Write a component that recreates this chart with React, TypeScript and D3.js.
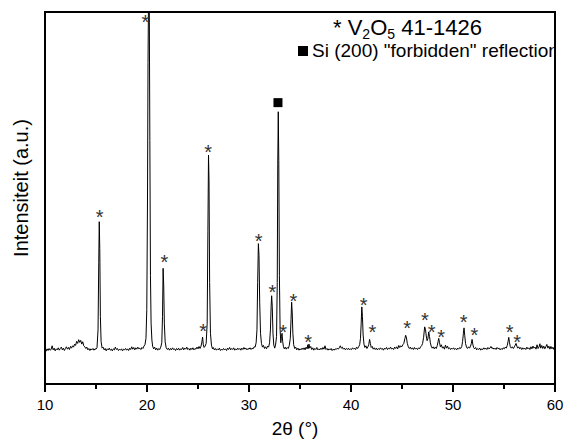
import React from 'react';
import * as d3 from 'd3';

const W = 564;
const H = 439;
const FONT = '"Liberation Sans", Arial, Helvetica, sans-serif';

// Axis definitions
const xDomain: [number, number] = [10, 60];
const yDomain: [number, number] = [-10, 100];
const xMajorTicks = [10, 20, 30, 40, 50, 60];
const xMinorTicks = [15, 25, 35, 45, 55];
const xTitle = '2θ (°)';
const yTitle = 'Intensiteit (a.u.)';

// XRD trace: [2θ, intensity (a.u.)]
const pattern: [number, number][] = [
  [10.0, 0.3], [10.1, -0.3], [10.2, 0.4], [10.3, -0.1], [10.4, 0.5], [10.5, 0.0], [10.6, 0.2], [10.7, 1.3], [10.8, 0.1],
  [10.9, 0.6], [11.0, -0.2], [11.1, 0.4], [11.2, 0.1], [11.3, 0.7], [11.4, 0.0], [11.5, 0.5], [11.6, 0.9], [11.7, 0.1],
  [11.8, 0.6], [11.9, -0.1], [12.0, 0.5], [12.1, 1.0], [12.2, 0.3], [12.3, 0.8], [12.4, 0.2], [12.5, 1.1], [12.6, 0.6],
  [12.7, 1.3], [12.8, 0.9], [12.9, 1.8], [13.0, 1.4], [13.1, 2.6], [13.2, 2.0], [13.3, 3.1], [13.4, 2.3], [13.5, 2.9],
  [13.6, 1.8], [13.7, 2.5], [13.8, 1.3], [13.9, 1.0], [14.0, 0.5], [14.1, 0.9], [14.2, 0.1], [14.3, 0.5], [14.4, -0.1],
  [14.5, 0.4], [14.6, 0.1], [14.7, 0.5], [14.8, 0.0], [14.9, 0.4], [15.0, 0.3], [15.1, 0.8], [15.2, 6], [15.27, 26],
  [15.32, 38], [15.37, 30], [15.43, 10], [15.5, 2.5], [15.6, 0.6], [15.7, 0.9], [15.8, 0.1], [15.9, 0.5], [16.0, -0.2],
  [16.1, 0.4], [16.2, 0.1], [16.3, 0.6], [16.4, 0.0], [16.5, 0.3], [16.6, -0.2], [16.7, 0.4], [16.8, 0.1], [16.9, 0.9],
  [17.0, 0.2], [17.1, 0.5], [17.2, -0.1], [17.3, 0.3], [17.4, 0.0], [17.5, 0.4], [17.6, -0.2], [17.7, 0.3], [17.8, 0.1],
  [17.9, 0.5], [18.0, 0.0], [18.1, 0.4], [18.2, -0.1], [18.3, 0.6], [18.4, 0.2], [18.5, 1.0], [18.6, 0.3], [18.7, 0.8],
  [18.8, 0.1], [18.9, 0.7], [19.0, 0.3], [19.1, 0.9], [19.2, 0.4], [19.3, 0.6], [19.4, 0.2], [19.5, 0.8], [19.6, 0.5],
  [19.7, 1.2], [19.8, 1.6], [19.9, 3.5], [19.98, 12], [20.05, 45], [20.1, 85], [20.15, 104], [20.22, 104], [20.28, 62],
  [20.34, 22], [20.4, 8], [20.48, 3], [20.55, 1.2], [20.65, 0.4], [20.75, 0.9], [20.85, 0.1], [20.95, 0.6], [21.05, 0.0],
  [21.15, 0.5], [21.25, 0.2], [21.35, 0.9], [21.45, 2.2], [21.52, 10], [21.58, 24.2], [21.64, 19], [21.7, 8], [21.78, 2.5],
  [21.88, 0.7], [22.0, 0.2], [22.1, 0.6], [22.2, 0.0], [22.3, 0.5], [22.4, 0.1], [22.5, 0.7], [22.6, 0.2], [22.7, 0.4],
  [22.8, -0.1], [22.9, 0.5], [23.0, 0.1], [23.1, 0.6], [23.2, 0.0], [23.3, 0.4], [23.4, 0.2], [23.5, 0.8], [23.6, 0.1],
  [23.7, 0.6], [23.8, 0.3], [23.9, 0.9], [24.0, 0.2], [24.1, 0.5], [24.2, 0.0], [24.3, 0.6], [24.4, 0.2], [24.5, 0.7],
  [24.6, 0.1], [24.7, 0.5], [24.8, 0.3], [24.9, 0.9], [25.0, 0.4], [25.1, 1.1], [25.2, 0.5], [25.3, 1.2], [25.38, 2.4],
  [25.45, 3.9], [25.52, 1.6], [25.6, 0.8], [25.7, 1.2], [25.8, 2.0], [25.9, 8], [25.97, 35], [26.03, 57.7], [26.08, 50],
  [26.14, 20], [26.22, 5], [26.32, 1.5], [26.42, 0.4], [26.5, 0.8], [26.6, 0.1], [26.7, 0.5], [26.8, 0.0], [26.9, 0.4],
  [27.0, 0.1], [27.1, 0.6], [27.2, -0.1], [27.3, 0.3], [27.4, 0.0], [27.5, 0.5], [27.6, 0.1], [27.7, 0.4], [27.8, -0.1],
  [27.9, 0.6], [28.0, 0.2], [28.1, 0.8], [28.2, 0.1], [28.3, 0.5], [28.4, 0.2], [28.5, 0.7], [28.6, 0.0], [28.7, 0.4],
  [28.8, 0.1], [28.9, 0.6], [29.0, 0.2], [29.1, 0.5], [29.2, 0.0], [29.3, 0.6], [29.4, 0.2], [29.5, 0.8], [29.6, 0.3],
  [29.7, 0.6], [29.8, 0.1], [29.9, 0.5], [30.0, 0.3], [30.1, 0.7], [30.2, 0.2], [30.3, 0.6], [30.4, 0.4], [30.5, 1.0],
  [30.6, 0.9], [30.7, 2.2], [30.78, 6], [30.85, 20], [30.92, 31.5], [30.98, 28], [31.05, 14], [31.13, 5], [31.22, 2],
  [31.32, 0.9], [31.42, 1.4], [31.52, 0.5], [31.62, 1.0], [31.72, 0.4], [31.82, 1.2], [31.92, 0.9], [32.02, 2.2],
  [32.1, 6], [32.17, 13], [32.22, 16.1], [32.28, 13], [32.35, 5], [32.43, 1.5], [32.52, 0.6], [32.6, 1.5], [32.7, 4],
  [32.77, 20], [32.82, 55], [32.87, 70.5], [32.92, 56], [32.98, 22], [33.05, 6], [33.12, 2.2], [33.18, 4.0], [33.24, 5.0],
  [33.3, 2.6], [33.38, 1.0], [33.46, 0.4], [33.55, 0.9], [33.65, 0.3], [33.75, 0.8], [33.85, 0.5], [33.95, 1.4],
  [34.05, 3.5], [34.12, 9], [34.18, 14.2], [34.24, 11], [34.3, 5], [34.38, 1.6], [34.48, 0.5], [34.58, 0.9], [34.68, 0.1],
  [34.8, 0.6], [34.9, 0.0], [35.0, 0.4], [35.1, 0.1], [35.2, 0.6], [35.3, 0.2], [35.4, 0.7], [35.5, 0.1], [35.6, 0.9],
  [35.7, 0.4], [35.76, 1.6], [35.82, 0.5], [35.88, 1.8], [35.95, 0.6], [36.05, 1.1], [36.15, 0.2], [36.25, 0.7],
  [36.35, 0.0], [36.45, 0.5], [36.55, 0.2], [36.65, 0.8], [36.75, 0.1], [36.85, 0.4], [36.95, 0.1], [37.05, 0.6],
  [37.15, 0.2], [37.25, 0.8], [37.35, 0.3], [37.45, 1.3], [37.55, 0.2], [37.65, 0.5], [37.75, 0.0], [37.85, 0.4],
  [37.95, 0.1], [38.05, 0.5], [38.15, -0.1], [38.25, 0.3], [38.35, 0.0], [38.45, 0.4], [38.55, 0.2], [38.65, 0.6],
  [38.75, 0.3], [38.85, 0.7], [38.95, 1.3], [39.05, 0.6], [39.15, 0.9], [39.25, 0.3], [39.35, 0.6], [39.45, 0.1],
  [39.55, 0.5], [39.65, 0.2], [39.75, 0.6], [39.85, 0.1], [39.95, 0.4], [40.05, 0.2], [40.15, 0.7], [40.25, 0.3],
  [40.35, 0.6], [40.45, 0.2], [40.55, 0.9], [40.65, 0.5], [40.75, 1.0], [40.85, 1.6], [40.93, 3.5], [41.0, 8],
  [41.06, 12.8], [41.12, 10], [41.19, 4.5], [41.27, 1.8], [41.36, 0.8], [41.46, 1.3], [41.56, 0.5], [41.66, 1.0],
  [41.74, 1.6], [41.82, 3.2], [41.9, 2.0], [41.98, 0.8], [42.08, 1.1], [42.18, 0.3], [42.28, 0.7], [42.38, 0.2],
  [42.48, 0.6], [42.58, 0.1], [42.68, 0.5], [42.78, 0.2], [42.88, 0.7], [42.98, 0.3], [43.08, 0.5], [43.18, 0.0],
  [43.28, 0.6], [43.38, 0.3], [43.48, 0.8], [43.58, 0.2], [43.68, 0.6], [43.78, 0.4], [43.88, 0.9], [43.98, 0.3],
  [44.08, 0.6], [44.18, 0.2], [44.28, 0.9], [44.38, 0.5], [44.48, 1.0], [44.58, 0.4], [44.68, 1.4], [44.78, 0.8],
  [44.88, 1.3], [44.98, 1.0], [45.08, 1.6], [45.18, 2.0], [45.28, 3.4], [45.36, 4.4], [45.44, 3.6], [45.52, 2.0],
  [45.62, 1.0], [45.72, 0.5], [45.82, 0.9], [45.92, 0.3], [46.02, 0.7], [46.12, 0.2], [46.22, 0.8], [46.32, 0.3],
  [46.42, 0.6], [46.52, 0.2], [46.62, 0.7], [46.72, 0.4], [46.82, 1.0], [46.92, 1.3], [47.02, 2.0], [47.12, 3.8],
  [47.22, 6.9], [47.3, 6.2], [47.38, 4.2], [47.46, 2.8], [47.54, 3.4], [47.62, 5.4], [47.7, 4.0], [47.78, 2.2],
  [47.86, 1.2], [47.96, 0.6], [48.06, 1.0], [48.16, 0.4], [48.26, 0.9], [48.36, 0.5], [48.46, 1.4], [48.54, 2.6],
  [48.6, 3.5], [48.68, 2.2], [48.76, 1.0], [48.86, 1.6], [48.96, 0.6], [49.06, 1.0], [49.16, 0.3], [49.26, 1.5],
  [49.36, 0.6], [49.46, 1.2], [49.56, 0.4], [49.66, 0.7], [49.76, 0.2], [49.86, 0.6], [49.96, 0.3], [50.06, 0.7],
  [50.16, 0.2], [50.26, 0.5], [50.36, 0.1], [50.46, 0.6], [50.56, 0.3], [50.66, 0.8], [50.76, 0.5], [50.86, 1.1],
  [50.94, 2.6], [51.02, 5.0], [51.08, 6.6], [51.15, 4.4], [51.23, 2.0], [51.32, 0.9], [51.42, 0.5], [51.52, 1.0],
  [51.62, 0.6], [51.72, 1.2], [51.8, 2.0], [51.87, 3.2], [51.94, 1.8], [52.02, 0.8], [52.12, 0.4], [52.22, 0.8],
  [52.32, 0.1], [52.42, 0.5], [52.52, 0.2], [52.62, 0.6], [52.72, 0.0], [52.82, 0.4], [52.92, 0.2], [53.02, 0.7],
  [53.12, 0.3], [53.22, 0.6], [53.32, 0.2], [53.42, 0.8], [53.52, 0.4], [53.62, 0.6], [53.72, 1.1], [53.82, 0.5],
  [53.92, 0.7], [54.02, 0.3], [54.12, 0.6], [54.22, 0.2], [54.32, 0.8], [54.42, 0.4], [54.52, 0.6], [54.62, 0.1],
  [54.72, 0.5], [54.82, 0.2], [54.92, 0.7], [55.02, 0.4], [55.12, 0.9], [55.22, 0.6], [55.32, 1.4], [55.4, 2.6],
  [55.47, 3.8], [55.54, 2.2], [55.62, 1.0], [55.72, 0.6], [55.82, 1.0], [55.92, 0.5], [56.02, 1.0], [56.1, 1.5],
  [56.18, 2.0], [56.26, 1.2], [56.34, 0.6], [56.44, 1.0], [56.54, 0.4], [56.64, 0.8], [56.74, 0.2], [56.84, 0.7],
  [56.94, 0.3], [57.04, 0.6], [57.14, 0.2], [57.24, 0.9], [57.34, 0.4], [57.44, 0.7], [57.54, 0.2], [57.64, 1.0],
  [57.74, 0.4], [57.84, 1.2], [57.94, 0.6], [58.04, 0.9], [58.14, 0.3], [58.24, 1.6], [58.34, 0.5], [58.44, 1.0],
  [58.52, 1.9], [58.6, 0.6], [58.7, 1.4], [58.8, 0.5], [58.9, 1.2], [59.0, 0.4], [59.1, 1.0], [59.2, 1.7], [59.3, 0.6],
  [59.4, 1.2], [59.5, 0.3], [59.6, 1.1], [59.7, 0.4], [59.8, 0.9], [59.9, 0.2], [60.0, 0.7],
];

// V2O5 reflection markers (asterisks) [2θ, intensity]
const v2o5Markers: [number, number][] = [
  [15.35, 40.6], [19.85, 98.2], [21.7, 27.4], [25.5, 6.8], [26.0, 59.8], [30.95, 33.5], [32.3, 18.3],
  [33.35, 6.5], [34.35, 15.7], [35.8, 3.6], [41.25, 14.6], [42.1, 6.5], [45.5, 7.7], [47.25, 10.1],
  [47.9, 6.5], [48.85, 5.1], [51.05, 9.5], [52.1, 5.7], [55.55, 6.5], [56.3, 3.6],
];

// Si forbidden reflection marker (square) [2θ, intensity]
const siMarkers: [number, number][] = [[32.84, 73.2]];

// Legend texts
const legendV2O5Parts = ['* V', '2', 'O', '5', ' 41-1426'];
const legendSi = 'Si (200) "forbidden" reflection';

export default function App() {
  const left = 45, right = 555, top = 12, bottom = 384;
  const x = d3.scaleLinear().domain(xDomain).range([left, right]);
  const y = d3.scaleLinear().domain(yDomain).range([bottom, top]);
  const line = d3.line<[number, number]>().x((d) => x(d[0])).y((d) => y(d[1]));
  const sq = 9;

  return (
    <svg
      width={W}
      height={H}
      viewBox={`0 0 ${W} ${H}`}
      style={{ position: 'absolute', left: 0, top: 0, background: '#fff' }}
      fontFamily={FONT}
    >
      <defs>
        <clipPath id="plotClip">
          <rect x={left} y={top} width={right - left} height={bottom - top} />
        </clipPath>
      </defs>
      <rect x={0} y={0} width={W} height={H} fill="#fff" />

      <g clipPath="url(#plotClip)">
        <path d={line(pattern) || ''} fill="none" stroke="#000" strokeWidth={1} strokeLinejoin="round" />
        {v2o5Markers.map((d, i) => (
          <text key={i} x={x(d[0])} y={y(d[1]) + 11} textAnchor="middle" fontSize={20} fill="#333">
            *
          </text>
        ))}
        {siMarkers.map((d, i) => (
          <rect key={i} x={x(d[0]) - sq / 2} y={y(d[1]) - sq / 2} width={sq} height={sq} fill="#000" />
        ))}
        {/* legend */}
        <text x={333} y={35} fontSize={22} fill="#000">
          <tspan>{legendV2O5Parts[0]}</tspan>
          <tspan fontSize={14} dy={4}>{legendV2O5Parts[1]}</tspan>
          <tspan dy={-4}>{legendV2O5Parts[2]}</tspan>
          <tspan fontSize={14} dy={4}>{legendV2O5Parts[3]}</tspan>
          <tspan dy={-4}>{legendV2O5Parts[4]}</tspan>
        </text>
        <rect x={298} y={46} width={10} height={10} fill="#000" />
        <text x={312} y={56.5} fontSize={19} fill="#000">{legendSi}</text>
      </g>

      {/* frame */}
      <rect x={left} y={top} width={right - left} height={bottom - top} fill="none" stroke="#000" strokeWidth={2} />

      {/* x ticks */}
      {xMajorTicks.map((t) => (
        <g key={`M${t}`}>
          <line x1={x(t)} x2={x(t)} y1={bottom} y2={bottom + 8} stroke="#000" strokeWidth={2} />
          <text x={x(t)} y={410} textAnchor="middle" fontSize={15} fill="#000">{t}</text>
        </g>
      ))}
      {xMinorTicks.map((t) => (
        <line key={`m${t}`} x1={x(t)} x2={x(t)} y1={bottom} y2={bottom + 5} stroke="#000" strokeWidth={2} />
      ))}

      <text x={295} y={435} textAnchor="middle" fontSize={19} fill="#000">{xTitle}</text>
      <text transform="translate(28,188) rotate(-90)" textAnchor="middle" fontSize={20} fill="#000">{yTitle}</text>
    </svg>
  );
}
